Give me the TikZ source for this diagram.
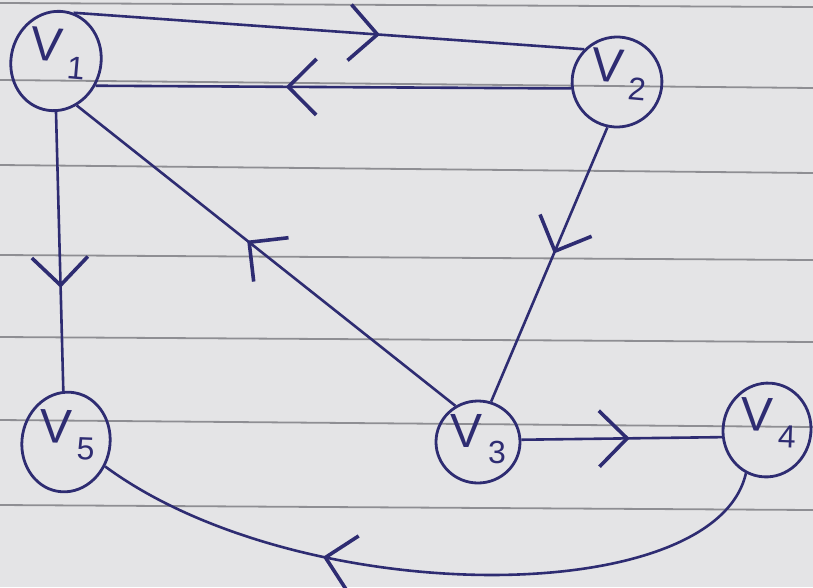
\documentclass[tikz,border=0pt]{standalone}
\usepackage{fontspec}
\setmainfont{Liberation Sans}
\usetikzlibrary{shapes.geometric,arrows.meta,decorations.markings}
\definecolor{paper}{HTML}{E4E4E6}
\definecolor{rule}{HTML}{8E8E93}
\definecolor{ink}{HTML}{2E2C72}
% vertex label: V with a lowered index, optionally turned back a little
\newcommand{\vlab}[2][0]{\rotatebox{#1}{V\kern6pt\raisebox{-16pt}{\fontsize{32}{32}\selectfont #2}}}
\tikzset{
  vertex/.style={ellipse, draw=ink, line width=2.8pt, inner sep=0pt,
    text=ink, font=\fontsize{48}{48}\selectfont,
    text height=30pt, text depth=20pt},
  edge/.style={draw=ink, line width=2.6pt},
  barb/.tip={Straight Barb[length=28pt,width=56pt,line width=3.6pt]},
  midarrow/.style={decoration={markings,
    mark=at position #1 with {\arrow[ink]{barb}}}, postaction=decorate},
  ruling/.style={draw=rule, line width=1.8pt}
}
\begin{document}
\begin{tikzpicture}[x=1pt,y=-1pt]
  % paper and ruled lines
  \fill[paper] (0,0) rectangle (813,587);
  \useasboundingbox (0,0) rectangle (813,587);
  \foreach \a/\b in {3/7,80/88,165/173,255/260,337/342,420/427,505/510}
    \draw[ruling] (0,\a) -- (813,\b);

  % vertices
  \node[vertex, minimum width=84pt, minimum height=100pt, rotate=-15] (v1) at (56,61) {\vlab[10]{1}};
  \node[vertex, minimum width=78pt, minimum height=90pt, rotate=-15] (v2) at (617,82) {\vlab[10]{2}};
  \node[vertex, minimum width=84pt, minimum height=82pt] (v3) at (478,442) {\vlab{3}};
  \node[vertex, minimum width=86pt, minimum height=94pt, rotate=-10] (v4) at (767,430) {\vlab[8]{4}};
  \node[vertex, minimum width=88pt, minimum height=100pt, rotate=-10] (v5) at (66,442) {\vlab[8]{5}};

  % directed edges with arrowheads part-way along
  \draw[edge, midarrow=0.6] (v1.85) -- (v2.150);
  \draw[edge, midarrow=0.6] (v2.203) -- (v1.-17);
  \draw[edge, midarrow=0.63] (v1.-75) -- (v5.103);
  \draw[edge, midarrow=0.55] (v3.122) -- (v1.-50);
  \draw[edge, midarrow=0.46] (v2.-87) -- (v3.72);
  \draw[edge, midarrow=0.54] (v3.3) -- (v4.199);
  \draw[edge, midarrow=0.66] (v4.-106) .. controls (715,610) and (300,610) .. (v5.-22);
\end{tikzpicture}
\end{document}
